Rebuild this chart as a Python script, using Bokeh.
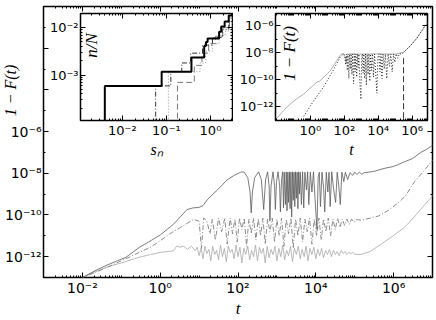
import numpy as np
from math import pi
from bokeh.plotting import figure
from bokeh.layouts import column, row
from bokeh.models import FixedTicker, LogAxis, Label, Range1d
from bokeh.embed import file_html
from bokeh.resources import INLINE

# ---------------- data (as log10) ----------------
# main panel, top solid curve (log10 t, log10 1-F)
main_a = [(-2.05, -13.1), (-2.0, -13.0), (-1.7, -12.7), (-1.4, -12.43), (-1.1, -12.2), (-0.88, -12.03),
          (-0.54, -11.56), (-0.3, -11.3), (0.0, -10.96), (0.34, -10.45), (0.69, -9.74), (0.85, -9.66),
          (0.99, -9.64), (1.1, -9.55), (1.21, -9.27), (1.47, -8.80), (1.72, -8.32), (1.9, -8.1), (2.07, -7.95),
          (2.15, -7.93), (2.25, -8.2), (2.31, -8.9), (2.34, -9.9), (2.37, -8.9), (2.43, -8.2), (2.53, -7.93),
          (2.60, -8.3), (2.66, -9.74), (2.71, -8.3), (2.76, -7.93), (2.80, -8.6), (2.82, -10.29), (2.85, -8.6),
          (2.90, -7.93), (2.94, -8.6), (2.96, -9.74), (2.99, -8.4), (3.03, -7.93), (3.07, -8.6), (3.09, -9.85),
          (3.12, -8.3), (3.15, -7.93), (3.17, -9.66), (3.19, -7.95), (3.22, -9.5), (3.24, -7.93), (3.26, -9.8),
          (3.28, -7.95), (3.30, -9.4), (3.32, -7.93), (3.34, -9.7), (3.36, -7.95), (3.38, -10.1), (3.40, -7.93),
          (3.42, -9.3), (3.44, -7.95), (3.46, -9.6), (3.48, -7.93), (3.50, -9.2), (3.52, -7.95), (3.54, -9.7),
          (3.56, -7.93), (3.58, -9.0), (3.60, -7.95), (3.63, -9.5), (3.66, -7.93), (3.69, -9.66), (3.72, -7.95),
          (3.76, -8.8), (3.79, -7.93), (3.82, -9.5), (3.86, -7.95), (3.90, -8.9), (3.94, -7.93), (3.98, -9.2),
          (4.03, -10.69), (4.06, -8.2), (4.09, -7.95), (4.12, -9.6), (4.16, -7.95), (4.20, -8.7), (4.23, -9.85),
          (4.27, -7.95), (4.31, -8.9), (4.34, -7.95), (4.37, -9.6), (4.41, -7.93), (4.46, -8.8), (4.51, -9.4),
          (4.55, -7.95), (4.59, -8.6), (4.63, -9.5), (4.67, -7.95), (4.72, -8.4), (4.76, -7.95), (4.82, -8.3),
          (4.88, -7.97), (4.95, -8.1), (5.0, -7.95), (5.06, -8.05), (5.12, -7.95), (5.18, -8.05), (5.24, -7.97),
          (5.35, -7.95), (5.45, -7.92), (5.52, -7.9), (5.65, -7.82), (5.8, -7.75), (5.96, -7.69), (6.1, -7.6),
          (6.25, -7.47), (6.48, -7.30), (6.7, -7.0), (6.85, -6.85), (7.0, -6.66), (7.05, -6.6)]

# main panel, middle dash-dot curve
main_b = [(-2.05, -13.1), (-2.0, -13.0), (-1.7, -12.78), (-1.37, -12.52), (-1.0, -12.2), (-0.54, -11.8),
          (-0.25, -11.55), (0.0, -11.24), (0.25, -10.9), (0.52, -10.6), (0.86, -10.21), (1.0, -10.3),
          (1.06, -11.6), (1.12, -10.14), (1.2, -10.3), (1.28, -10.9), (1.34, -10.2), (1.42, -11.2), (1.5, -10.15),
          (1.58, -10.8), (1.66, -10.15), (1.72, -11.4), (1.8, -10.15), (1.86, -10.9), (1.92, -10.2), (1.98, -11.3),
          (2.04, -10.15), (2.1, -10.7), (2.16, -10.15), (2.22, -11.5), (2.28, -10.2), (2.34, -10.9), (2.4, -10.15),
          (2.46, -11.2), (2.52, -10.18), (2.58, -11.0), (2.64, -10.15), (2.70, -11.4), (2.76, -10.2), (2.82, -10.8),
          (2.88, -10.15), (2.94, -11.3), (3.0, -10.2), (3.06, -11.0), (3.12, -10.15), (3.18, -11.5), (3.24, -10.2),
          (3.30, -10.9), (3.36, -10.15), (3.42, -11.6), (3.48, -10.2), (3.54, -11.0), (3.60, -10.15), (3.66, -11.3),
          (3.72, -10.2), (3.78, -10.8), (3.84, -10.15), (3.90, -11.4), (3.96, -10.2), (4.02, -11.0), (4.08, -10.15),
          (4.14, -11.2), (4.20, -10.2), (4.26, -10.8), (4.32, -10.15), (4.38, -11.0), (4.44, -10.2), (4.50, -10.7),
          (4.56, -10.15), (4.62, -10.6), (4.68, -10.2), (4.74, -10.5), (4.80, -10.2), (4.86, -10.45), (4.92, -10.2),
          (4.98, -10.35), (5.05, -10.22), (5.16, -10.25), (5.4, -10.15), (5.6, -10.06), (5.85, -9.8), (6.11, -9.43),
          (6.3, -9.1), (6.54, -8.40), (6.75, -7.95), (6.97, -7.45), (7.05, -7.3)]

# main panel, bottom light curve
main_c = [(-2.05, -13.1), (-2.0, -13.0), (-1.7, -12.75), (-1.37, -12.5), (-1.0, -12.3), (-0.54, -12.03),
          (-0.25, -11.9), (0.0, -11.8), (0.2, -11.75), (0.34, -11.72), (0.43, -11.48), (0.5, -11.55),
          (0.6, -11.5), (0.7, -11.65), (0.8, -11.5), (0.9, -11.7),
          (0.95, -11.55), (1.0, -11.95), (1.05, -11.6), (1.1, -12.1), (1.15, -11.5), (1.2, -11.85), (1.25, -11.65),
          (1.3, -12.2), (1.35, -11.5), (1.4, -11.9), (1.45, -11.7), (1.5, -12.15), (1.55, -11.45), (1.6, -12.0),
          (1.65, -11.6), (1.7, -12.25), (1.75, -11.5), (1.8, -11.8), (1.85, -11.65), (1.9, -12.1), (1.95, -11.45),
          (2.0, -12.0), (2.05, -11.55), (2.1, -12.3), (2.15, -11.6), (2.2, -11.9), (2.25, -11.5), (2.3, -12.15),
          (2.35, -11.7), (2.4, -12.0), (2.45, -11.45), (2.5, -12.2), (2.55, -11.55), (2.6, -11.85), (2.65, -11.6),
          (2.7, -12.3), (2.75, -11.5), (2.8, -12.05), (2.85, -11.65), (2.9, -11.9), (2.95, -11.5), (3.0, -12.2),
          (3.05, -11.6), (3.1, -12.0), (3.15, -11.45), (3.2, -12.15), (3.25, -11.7), (3.3, -11.95), (3.35, -11.5),
          (3.4, -12.25), (3.45, -11.6), (3.5, -11.9), (3.55, -11.5), (3.6, -12.1), (3.65, -11.65), (3.7, -12.0),
          (3.75, -11.5), (3.8, -12.2), (3.85, -11.6), (3.9, -11.9), (3.95, -11.55), (4.0, -12.1), (4.05, -11.65),
          (4.1, -11.95), (4.15, -11.6), (4.2, -12.05), (4.25, -11.7), (4.3, -11.9), (4.35, -11.65), (4.4, -12.0),
          (4.45, -11.7), (4.5, -11.9), (4.55, -11.75), (4.6, -11.95), (4.65, -11.7), (4.7, -11.85), (4.75, -11.75),
          (4.8, -11.9), (4.85, -11.8), (4.9, -11.85), (4.95, -11.8), (5.0, -11.88),
          (5.16, -11.9), (5.4, -11.75), (5.68, -11.4), (5.95, -11.05), (6.28, -10.6), (6.55, -10.05),
          (6.8, -9.51), (7.0, -9.08), (7.05, -8.95)]

# inset 1: cumulative fraction n/N against s_n (step curves)
inset1_solid_s = [0.004, 0.004, 0.078, 0.37, 0.72, 0.79, 0.86, 1.57, 1.75, 2.1, 2.6, 3.5]
inset1_solid_n = [5e-5, 5.9e-4, 1.18e-3, 2.35e-3, 4.1e-3, 5.0e-3, 5.9e-3, 8.2e-3, 1.06e-2, 1.35e-2, 1.8e-2, 1.8e-2]
inset1_dashdot_s = [0.057, 0.057, 0.126, 0.223, 0.355, 0.66, 1.11, 1.86, 2.6, 3.5]
inset1_dashdot_n = [5e-5, 5.9e-4, 1.18e-3, 1.8e-3, 2.9e-3, 4.3e-3, 6.2e-3, 9.1e-3, 1.35e-2, 1.35e-2]
inset1_dotted_s = [0.111, 0.111, 0.58, 0.78, 1.11, 1.57, 2.2, 3.15, 3.5]
inset1_dotted_n = [5e-5, 1.18e-3, 1.8e-3, 3.2e-3, 4.6e-3, 6.8e-3, 8.5e-3, 1.35e-2, 1.35e-2]
inset1_dashed_s = [0.178, 0.178, 0.43, 0.64, 0.91, 1.3, 1.9, 2.7, 3.5]
inset1_dashed_n = [5e-5, 7.0e-4, 1.6e-3, 2.9e-3, 4.6e-3, 6.6e-3, 1.0e-2, 1.6e-2, 1.6e-2]

# inset 2: solid grey and dotted black curves, dashed marker (log10 values)
inset2_solid = [(-2.1, -13.0), (-1.96, -12.83), (-1.6, -12.3), (-1.18, -11.78), (-0.8, -11.4), (-0.41, -11.07),
                (0.0, -10.6), (0.39, -10.17), (0.55, -10.1), (0.76, -9.82), (1.0, -9.55), (1.18, -9.33),
                (1.4, -8.9), (1.57, -8.55), (1.75, -8.2), (1.86, -8.08), (1.95, -8.05), (2.03, -8.2), (2.12, -8.75),
                (2.18, -8.2), (2.3, -8.08), (3.0, -8.1), (4.0, -8.08), (5.0, -8.1), (5.49, -7.97), (5.88, -7.5),
                (6.27, -6.93), (6.76, -6.0), (6.95, -5.75)]
inset2_dotted = [(-0.39, -12.7), (0.19, -11.56), (0.78, -10.51), (1.37, -9.24), (1.76, -8.31), (1.96, -8.08),
                 (2.03, -8.3), (2.08, -8.9), (2.12, -8.1), (2.18, -9.3), (2.22, -8.08), (2.27, -9.9), (2.31, -8.1),
                 (2.36, -9.2), (2.40, -8.08), (2.45, -9.6), (2.49, -8.1), (2.55, -10.3), (2.59, -8.08), (2.64, -9.4),
                 (2.68, -8.1), (2.73, -9.8), (2.77, -8.08), (2.82, -9.1), (2.86, -8.1), (2.92, -10.2), (2.98, -11.44),
                 (3.02, -8.5), (3.06, -8.08), (3.11, -9.5), (3.15, -8.1), (3.2, -9.9), (3.25, -8.08), (3.30, -10.4),
                 (3.35, -8.1), (3.40, -9.6), (3.45, -8.08), (3.50, -10.1), (3.55, -8.1), (3.60, -9.3), (3.66, -8.08),
                 (3.72, -9.8), (3.78, -8.1), (3.85, -9.5), (3.92, -10.98), (3.98, -8.3), (4.04, -8.08), (4.10, -9.4),
                 (4.16, -8.1), (4.22, -9.9), (4.28, -8.08), (4.35, -9.2), (4.42, -8.1), (4.5, -9.9), (4.58, -8.08),
                 (4.66, -9.0), (4.74, -8.1), (4.82, -9.4), (4.9, -8.08), (4.98, -8.7), (5.06, -8.08), (5.15, -8.4),
                 (5.25, -8.05), (5.35, -8.1), (5.49, -7.97), (5.88, -7.5), (6.27, -6.93), (6.76, -6.0), (6.95, -5.75)]
inset2_marker_logt = [5.49, 5.49]
inset2_marker_logy = [-8.4, -14.0]

# ---------------- helpers ----------------
SUP = str.maketrans("-0123456789", "⁻⁰¹²³⁴⁵⁶⁷⁸⁹")


def dec_label(k):
    return "10" + str(k).translate(SUP)


def unlog(pairs):
    return [10.0 ** a for a, _ in pairs], [10.0 ** b for _, b in pairs]


def make_fig(w, h, xr, yr, top, right, bottom, left, fill=True):
    p = figure(width=w, height=h, x_axis_type="log", y_axis_type="log",
               x_range=Range1d(*xr), y_range=Range1d(*yr),
               output_backend="svg", toolbar_location=None,
               min_border_top=top, min_border_right=right,
               min_border_bottom=bottom, min_border_left=left)
    p.grid.visible = False
    p.outline_line_color = "black"
    p.outline_line_width = 1.5
    p.background_fill_color = "white"
    if not fill:
        p.border_fill_color = None
    return p


def style_axis(ax, ticker, overrides, fs, show):
    ax.ticker = ticker
    ax.axis_line_color = None
    ax.major_tick_in = 5
    ax.major_tick_out = 0
    ax.minor_tick_in = 2
    ax.minor_tick_out = 0
    ax.major_tick_line_color = "black"
    ax.minor_tick_line_color = "black"
    ax.major_tick_line_width = 1
    ax.minor_tick_line_width = 1
    if show:
        ax.major_label_overrides = overrides
        ax.major_label_text_font = "DejaVu Sans"
        ax.major_label_text_font_size = fs
        ax.major_label_text_color = "black"
        ax.major_label_standoff = 2
    else:
        ax.major_label_overrides = {k: " " for k in overrides}
        ax.major_label_text_font_size = "1px"
        ax.major_label_text_alpha = 0.0
        ax.major_label_standoff = 0


def set_ticks(p, dim, majors, labeled, minors, fs):
    ticker = FixedTicker(ticks=[10.0 ** k for k in majors], minor_ticks=minors)
    overrides = {10.0 ** k: (dec_label(k) if k in labeled else " ") for k in majors}
    main_ax = p.below[0] if dim == "x" else p.left[0]
    style_axis(main_ax, ticker, overrides, fs, True)
    mirror = LogAxis(ticker=ticker)
    style_axis(mirror, ticker, overrides, fs, False)
    p.add_layout(mirror, "above" if dim == "x" else "right")


def set_xlabel(p, text, size, standoff):
    ax = p.below[0]
    ax.axis_label = text
    ax.axis_label_text_font = "Liberation Serif"
    ax.axis_label_text_font_style = "italic"
    ax.axis_label_text_font_size = size
    ax.axis_label_standoff = standoff
    ax.axis_label_text_color = "black"


def subs(lo, hi):
    return [m * 10.0 ** k for k in range(lo, hi + 1) for m in range(2, 10)]


def add_label(p, x, y, text, size, angle=0.0):
    # x, y in pixels from the frame's bottom-left corner
    p.add_layout(Label(x=x, y=y, x_units="screen", y_units="screen", text=text, angle=angle,
                       text_font="Liberation Serif", text_font_style="italic",
                       text_font_size=size, text_align="center", text_baseline="middle",
                       text_color="black"))


# ---------------- main panel ----------------
W, H = 436, 320
main = make_fig(W, H, (1e-3, 1e7), (1e-13, 1.0), 6, 4, 39, 43)
set_xlabel(main, "t", "17px", 0)
set_ticks(main, "x", list(range(-2, 8, 2)), list(range(-2, 8, 2)),
          subs(-3, 6) + [10.0 ** k for k in range(-3, 8, 2)], "14px")
set_ticks(main, "y", list(range(-12, 1, 2)), [-12, -10, -8, -6],
          [10.0 ** k for k in range(-13, 0, 2)], "14px")

ct, cy = unlog(main_c)
main.line(ct, cy, line_color="#a8a8a8", line_width=0.8)
bt, by = unlog(main_b)
main.line(bt, by, line_color="#808080", line_width=0.9, line_dash="5 2 1 2")
at, ay = unlog(main_a)
main.line(at, ay, line_color="#5a5a5a", line_width=0.8)

IH = 160

# ---------------- strip that carries the main y label (transparent) ----------------
ystrip = figure(width=43, height=IH, x_range=(0, 1), y_range=(0, 1), output_backend="svg",
                toolbar_location=None, min_border=0)
ystrip.axis.visible = False
ystrip.grid.visible = False
ystrip.outline_line_color = None
ystrip.background_fill_color = None
ystrip.border_fill_color = None
add_label(ystrip, 10, 30, "1 − F(t)", "16px", pi / 2)

# ---------------- inset 1 ----------------
ins1 = make_fig(190, IH, (10 ** -2.95, 10 ** 0.5), (10 ** -3.96, 10 ** -1.7), 13, 1, 34, 37, fill=False)
set_xlabel(ins1, "sₙ", "16px", 0)
set_ticks(ins1, "x", [-2, -1, 0], [-2, -1, 0], subs(-3, 0), "13px")
set_ticks(ins1, "y", [-3, -2], [-3, -2], subs(-4, -2), "13px")
ins1.step(inset1_dashed_s, inset1_dashed_n, mode="after", line_color="#777777", line_width=1.0,
          line_dash="6 3")
ins1.step(inset1_dotted_s, inset1_dotted_n, mode="after", line_color="#999999", line_width=1.0,
          line_dash="1 2")
ins1.step(inset1_dashdot_s, inset1_dashdot_n, mode="after", line_color="#333333", line_width=1.0,
          line_dash="5 2 1 2")
ins1.step(inset1_solid_s, inset1_solid_n, mode="after", line_color="black", line_width=2.0)
add_label(ins1, 11, 75, "n/N", "17px", pi / 2)

# ---------------- inset 2 ----------------
ins2 = make_fig(197, IH, (10 ** -2.05, 10 ** 6.9), (1e-13, 10 ** -5.1), 12, 4, 34, 41, fill=False)
set_xlabel(ins2, "t", "16px", 0)
set_ticks(ins2, "x", [0, 2, 4, 6], [0, 2, 4, 6], subs(-3, 6) + [10.0 ** k for k in [-2, -1, 1, 3, 5]], "13px")
set_ticks(ins2, "y", [-12, -10, -8, -6], [-12, -10, -8, -6], [10.0 ** k for k in [-13, -11, -9, -7]], "13px")
st, sy = unlog(inset2_solid)
ins2.line(st, sy, line_color="#9a9a9a", line_width=0.8)
dt, dy = unlog(inset2_dotted)
ins2.line(dt, dy, line_color="#222222", line_width=1.0, line_dash="1 2")
ins2.line([10.0 ** v for v in inset2_marker_logt], [10.0 ** v for v in inset2_marker_logy],
          line_color="#333333", line_width=1.0, line_dash="6 3")
add_label(ins2, 14, 67, "1 − F(t)", "17px", pi / 2)
ins2.margin = (0, 0, 0, 1)

insets = row(ystrip, ins1, ins2)
insets.margin = (-H, 0, 0, 0)
layout = column(main, insets)

open("out.html", "w").write(file_html(layout, INLINE))
